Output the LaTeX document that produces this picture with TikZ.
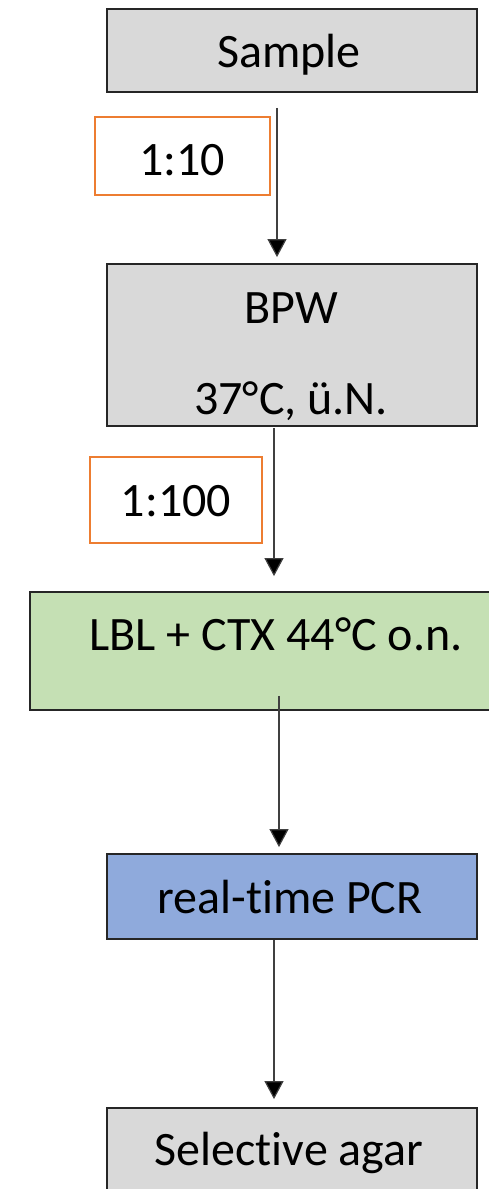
\documentclass[tikz,border=0pt]{standalone}
\usepackage{fontspec}
\setmainfont{Carlito}[Ligatures={NoCommon}]
\usetikzlibrary{arrows.meta}
\definecolor{boxgray}{HTML}{D9D9D9}
\definecolor{boxgreen}{HTML}{C5E0B4}
\definecolor{boxblue}{HTML}{8FAADC}
\definecolor{ratioline}{HTML}{ED7D31}
\definecolor{flowline}{HTML}{404040}
\begin{document}
\begin{tikzpicture}[x=1pt,y=-1pt,
  stage/.style={draw=black!85, line width=1.8pt, inner sep=0pt},
  ratio/.style={draw=ratioline, line width=1.2pt, fill=white, inner sep=0pt},
  txt/.style={font=\fontsize{48}{56}\selectfont, inner sep=0pt, anchor=base},
  flow/.style={draw=flowline, line width=1.2pt,
    -{Triangle[width=19pt,length=18pt,fill=black]}}]
\useasboundingbox (0,0) rectangle (488,1189);

% process stages
\node[stage, fill=boxgray, minimum width=370pt, minimum height=83pt] (sample) at (292,50.5) {};
\node[stage, fill=boxgray, minimum width=370pt, minimum height=162pt] (bpw) at (292,345) {};
\node[stage, fill=boxgreen, minimum width=470pt, minimum height=118pt] (lbl) at (265,651) {};
\node[stage, fill=boxblue, minimum width=370pt, minimum height=85pt] (pcr) at (292,896.5) {};
\node[stage, fill=boxgray, minimum width=370pt, minimum height=100pt] (agar) at (292,1158) {};

% dilution ratios
\node[ratio, minimum width=175pt, minimum height=78pt] (r10) at (182.5,156) {};
\node[ratio, minimum width=172pt, minimum height=86pt] (r100) at (176,500) {};

% labels
\node[txt] (tsample) at (289,67) {Sample};
\node[txt] (tbpw) at (291,323) {BPW};
\node[txt] (tbpwcond) at (291,414) {37°C, ü.N.};
\node[txt] (tlbl) at (276,650) {LBL + CTX 44°C o.n.};
\node[txt] (tpcr) at (290,913) {real-time PCR};
\node[txt] (tagar) at (289,1165) {Selective agar};
\node[txt] (tr10) at (182,175) {1:10};
\node[txt] (tr100) at (176,516) {1:100};

% connectors
\draw[flow, shorten <=15pt, shorten >=6pt]
  ([xshift=-15pt]sample.south) -- ([xshift=-15pt]sample.south |- bpw.north);
\draw[flow, shorten <=1pt, shorten >=15pt]
  ([xshift=-18pt]bpw.south) -- ([xshift=-18pt]bpw.south |- lbl.north);
\draw[flow, shorten <=-15pt, shorten >=6pt]
  ([xshift=14pt]lbl.south) -- ([xshift=14pt]lbl.south |- pcr.north);
\draw[flow, shorten >=8pt]
  ([xshift=-18pt]pcr.south) -- ([xshift=-18pt]pcr.south |- agar.north);
\end{tikzpicture}
\end{document}
